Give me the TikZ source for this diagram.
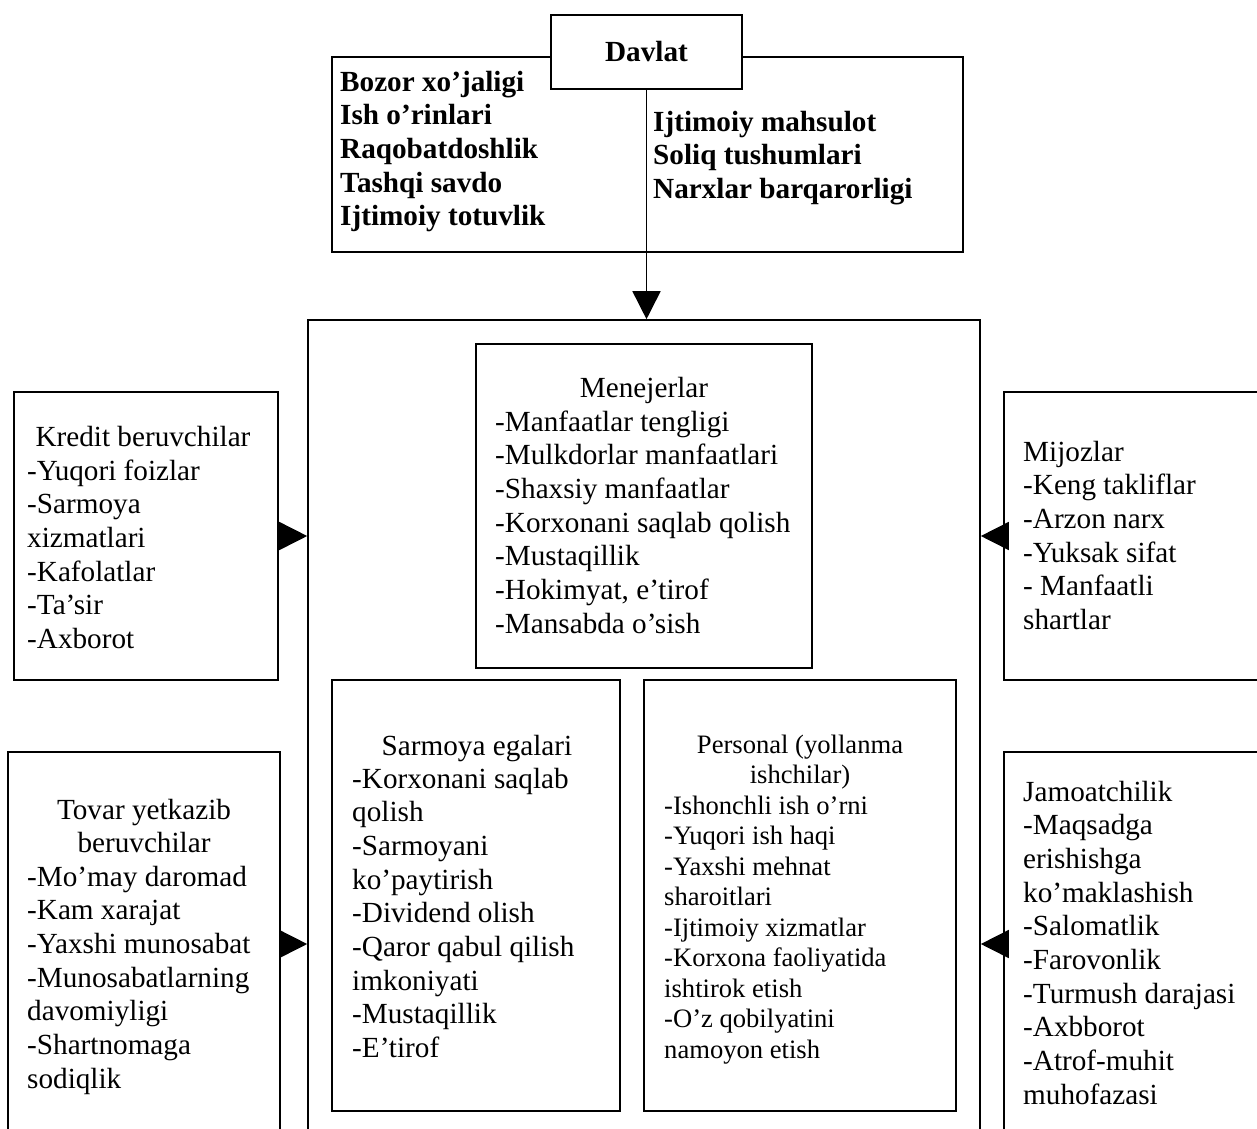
\documentclass[tikz,border=0pt]{standalone}
\usepackage{fontspec}
\setmainfont{Liberation Serif}
\usetikzlibrary{arrows.meta}

\newcommand{\colL}[1]{\begin{tabular}[t]{@{}l@{}}#1\end{tabular}}
\newcommand{\colC}[1]{\begin{tabular}[t]{@{}c@{}}#1\end{tabular}}

\tikzset{
  frame/.style={draw, line width=1.6pt, rectangle, inner sep=0pt, fill=white},
  big/.style={inner sep=0pt, font=\fontsize{29.2}{33.7}\selectfont},
  bigb/.style={inner sep=0pt, font=\fontsize{29.2}{33.7}\selectfont\bfseries},
  small/.style={inner sep=0pt, font=\fontsize{26.6}{30.5}\selectfont},
  link/.style={line width=1.6pt, -{Triangle[length=28pt,width=28pt]}},
}

\begin{document}
\begin{tikzpicture}[x=1pt, y=-1pt]
\useasboundingbox (0,0) rectangle (1257,1128);
\clip (0,0) rectangle (1257,1128);

% state block with its title box on top
\node[frame, minimum width=631pt, minimum height=195pt] (state) at (647.5,154.5) {};
\node[frame, minimum width=191pt, minimum height=74pt] (davlat) at (646.5,52) {};
\node[bigb, anchor=base] (davlatT) at (646.5,61) {Davlat};
\node[bigb, anchor=base west] (stateL) at (340,91)
  {\colL{Bozor xo’jaligi\\Ish o’rinlari\\Raqobatdoshlik\\Tashqi savdo\\Ijtimoiy totuvlik}};
\node[bigb, anchor=base west] (stateR) at (653,131)
  {\colL{Ijtimoiy mahsulot\\Soliq tushumlari\\Narxlar barqarorligi}};

% enterprise frame and its inner groups
\node[frame, minimum width=672pt, minimum height=840pt] (main) at (644,740) {};
\node[frame, minimum width=336pt, minimum height=324pt] (mgr) at (644,506) {};
\node[frame, minimum width=288pt, minimum height=431pt] (sarm) at (476,895.5) {};
\node[frame, minimum width=312pt, minimum height=431pt] (pers) at (800,895.5) {};

\draw[link] (davlat.south) -- (davlat.south |- main.north);

\node[big, anchor=base] (mgrH) at (644,397) {Menejerlar};
\node[big, anchor=base west] (mgrL) at (495,431)
  {\colL{-Manfaatlar tengligi\\-Mulkdorlar manfaatlari\\-Shaxsiy manfaatlar\\-Korxonani saqlab qolish\\-Mustaqillik\\-Hokimyat, e’tirof\\-Mansabda o’sish}};

\node[big, anchor=base] (sarmH) at (477,755) {Sarmoya egalari};
\node[big, anchor=base west] (sarmL) at (352,788)
  {\colL{-Korxonani saqlab\\qolish\\-Sarmoyani\\ko’paytirish\\-Dividend olish\\-Qaror qabul qilish\\imkoniyati\\-Mustaqillik\\-E’tirof}};

\node[small, anchor=base] (persH) at (800,753)
  {\colC{Personal (yollanma\\ishchilar)}};
\node[small, anchor=base west] (persL) at (664,814)
  {\colL{-Ishonchli ish o’rni\\-Yuqori ish haqi\\-Yaxshi mehnat\\sharoitlari\\-Ijtimoiy xizmatlar\\-Korxona faoliyatida\\ishtirok etish\\-O’z qobilyatini\\namoyon etish}};

% outside groups
\node[frame, minimum width=264pt, minimum height=288pt] (kredit) at (146,536) {};
\node[frame, minimum width=272pt, minimum height=384pt] (tovar) at (144,944) {};
\node[frame, minimum width=276pt, minimum height=288pt] (mijoz) at (1142,536) {};
\node[frame, minimum width=276pt, minimum height=384pt] (jamoat) at (1142,944) {};

\node[big, anchor=base] (kreditH) at (143,446) {Kredit beruvchilar};
\node[big, anchor=base west] (kreditL) at (27,480)
  {\colL{-Yuqori foizlar\\-Sarmoya\\xizmatlari\\-Kafolatlar\\-Ta’sir\\-Axborot}};

\node[big, anchor=base] (tovarH) at (144,819)
  {\colC{Tovar yetkazib\\beruvchilar}};
\node[big, anchor=base west] (tovarL) at (27,886)
  {\colL{-Mo’may daromad\\-Kam xarajat\\-Yaxshi munosabat\\-Munosabatlarning\\davomiyligi\\-Shartnomaga\\sodiqlik}};

\node[big, anchor=base west] (mijozL) at (1023,461)
  {\colL{Mijozlar\\-Keng takliflar\\-Arzon narx\\-Yuksak sifat\\- Manfaatli\\shartlar}};

\node[big, anchor=base west] (jamoatL) at (1023,801)
  {\colL{Jamoatchilik\\-Maqsadga\\erishishga\\ko’maklashish\\-Salomatlik\\-Farovonlik\\-Turmush darajasi\\-Axbborot\\-Atrof-muhit\\muhofazasi}};

% influences on the enterprise
\draw[link] (kredit.east) -- (main.west |- kredit.east);
\draw[link] (tovar.east) -- (main.west |- tovar.east);
\draw[link] (mijoz.west) -- (main.east |- mijoz.west);
\draw[link] (jamoat.west) -- (main.east |- jamoat.west);
\end{tikzpicture}
\end{document}
